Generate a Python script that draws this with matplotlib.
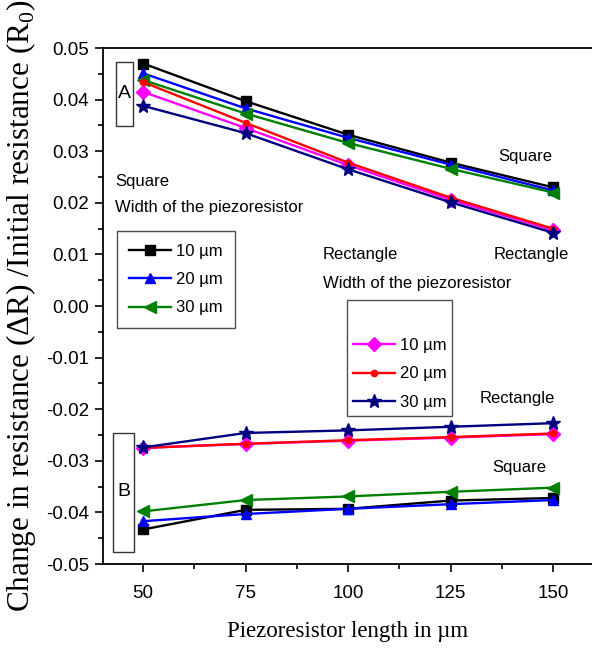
import numpy as np
import matplotlib
matplotlib.use('Agg')
from matplotlib import pyplot as plt
from matplotlib.patches import Rectangle
from matplotlib.ticker import MultipleLocator, FuncFormatter

plt.rcParams['font.family'] = ['Liberation Sans', 'DejaVu Sans']
plt.rcParams['mathtext.fontset'] = 'custom'
plt.rcParams['mathtext.rm'] = 'Liberation Serif'

length = [50, 75, 100, 125, 150]
widths = ['10 \u00b5m', '20 \u00b5m', '30 \u00b5m']

# group A: square and rectangle piezoresistors
sq_a = {
    '10': [0.0470, 0.0397, 0.0332, 0.0278, 0.0230],
    '20': [0.0451, 0.0383, 0.0326, 0.0274, 0.0224],
    '30': [0.0438, 0.0373, 0.0316, 0.0266, 0.0220],
}
re_a = {
    '10': [0.0415, 0.0345, 0.0273, 0.0206, 0.0147],
    '20': [0.0434, 0.0355, 0.0278, 0.0210, 0.0150],
    '30': [0.0388, 0.0335, 0.0265, 0.0201, 0.0142],
}
# group B
sq_b = {
    '10': [-0.0433, -0.0395, -0.0393, -0.0377, -0.0372],
    '20': [-0.0417, -0.0403, -0.0393, -0.0384, -0.0376],
    '30': [-0.0398, -0.0376, -0.0369, -0.0360, -0.0352],
}
re_b = {
    '10': [-0.0275, -0.0267, -0.0261, -0.0255, -0.0248],
    '20': [-0.0275, -0.0267, -0.0260, -0.0254, -0.0247],
    '30': [-0.0274, -0.0246, -0.0241, -0.0234, -0.0227],
}

sq_style = [('#000000', 's', 6.5), ('#0000ff', '^', 7.5), ('#008000', '<', 8.5)]
re_style = [('#ff00ff', 'D', 7), ('#ff0000', 'o', 4.5), ('#000080', '*', 10.5)]

fig = plt.figure(figsize=(5.92, 6.51), dpi=100)
ax = fig.add_axes([0.174, 0.1336, 0.826, 0.7926])

sq_lines, re_lines = [], []
for (c, m, ms), k, lab in zip(sq_style, ['10', '20', '30'], widths):
    l, = ax.plot(length, sq_a[k], color=c, marker=m, ms=ms, lw=1.7, label=lab)
    ax.plot(length, sq_b[k], color=c, marker=m, ms=ms, lw=1.7)
    sq_lines.append(l)
for (c, m, ms), k, lab in zip(re_style, ['10', '20', '30'], widths):
    l, = ax.plot(length, re_a[k], color=c, marker=m, ms=ms, lw=1.7, label=lab)
    ax.plot(length, re_b[k], color=c, marker=m, ms=ms, lw=1.7)
    re_lines.append(l)

ax.set_xlim(40.2, 159.5)
ax.set_ylim(-0.05, 0.05)
ax.xaxis.set_major_locator(MultipleLocator(25))
ax.xaxis.set_minor_locator(MultipleLocator(12.5))
ax.yaxis.set_major_locator(MultipleLocator(0.01))
ax.yaxis.set_minor_locator(MultipleLocator(0.005))
ax.yaxis.set_major_formatter(FuncFormatter(lambda v, p: '%.2f' % (0.0 if abs(v) < 1e-9 else v)))
ax.tick_params(which='major', direction='out', length=6, width=1.2, labelsize=13.5)
ax.tick_params(which='minor', direction='out', length=3.5, width=1.2)
ax.tick_params(axis='x', pad=9)
ax.tick_params(axis='y', pad=4)
ax.spines['right'].set_visible(False)
for s in ['left', 'bottom', 'top']:
    ax.spines[s].set_linewidth(1.3)

ax.set_xlabel('Piezoresistor length in \u00b5m', family='Liberation Serif', fontsize=16.5, labelpad=14)
ax.set_ylabel('Change in resistance (\u0394R) /Initial resistance (R$_0$)',
              family='Liberation Serif', fontsize=22.5, labelpad=6)

# annotations
txt = dict(fontsize=12, va='center', ha='left')
ax.text(136.6, 0.0289, 'Square', **txt)
ax.text(135.4, 0.0099, 'Rectangle', **txt)
ax.text(43.2, 0.0242, 'Square', **txt)
ax.text(43.2, 0.0190, 'Width of the piezoresistor', **txt)
ax.text(93.9, 0.0099, 'Rectangle', **txt)
ax.text(93.9, 0.0043, 'Width of the piezoresistor', **txt)
ax.text(132.0, -0.0180, 'Rectangle', **txt)
ax.text(135.1, -0.0312, 'Square', **txt)

ax.add_patch(Rectangle((43.4, 0.0349), 4.2, 0.0124, fill=False, ec='#333333', lw=1))
ax.text(45.5, 0.0411, 'A', fontsize=14, ha='center', va='center')
ax.add_patch(Rectangle((42.7, -0.0477), 5.1, 0.0231, fill=False, ec='#333333', lw=1))
ax.text(45.2, -0.0360, 'B', fontsize=14, ha='center', va='center')

leg_kw = dict(fontsize=12, frameon=True, fancybox=False, edgecolor='#222222',
              handlelength=2.5, handletextpad=0.3, labelspacing=0.8,
              borderaxespad=0, loc='upper left')
leg1 = ax.legend(handles=sq_lines, bbox_to_anchor=(0.0286, 0.645), borderpad=0.75, **leg_kw)
leg1.get_frame().set_linewidth(1.0)
ax.add_artist(leg1)
leg2 = ax.legend(handles=re_lines, bbox_to_anchor=(0.499, 0.512), title=' ',
                 title_fontsize=15, borderpad=0.35, **leg_kw)
leg2.get_frame().set_linewidth(1.0)

fig.savefig('out.png', dpi=100)
